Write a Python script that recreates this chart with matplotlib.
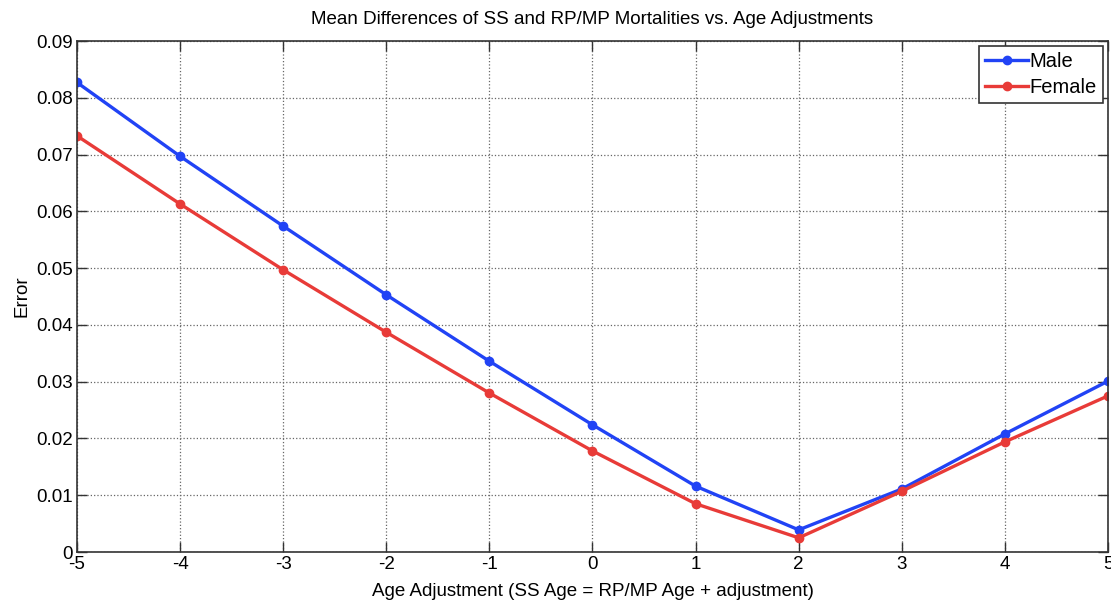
import matplotlib
matplotlib.use("Agg")
import matplotlib.pyplot as plt

# age adjustment values and mean error per sex
adjustments = [-5, -4, -3, -2, -1, 0, 1, 2, 3, 4, 5]
male_error = [0.0827, 0.0697, 0.0574, 0.0453, 0.0336, 0.0224, 0.0116, 0.0039, 0.0111, 0.0208, 0.0301]
female_error = [0.0733, 0.0613, 0.0497, 0.0387, 0.0280, 0.0178, 0.0085, 0.0025, 0.0107, 0.0194, 0.0275]

plt.rcParams['font.family'] = ['Liberation Sans', 'DejaVu Sans']
plt.rcParams['font.size'] = 13

color_male = '#2143f5'
color_female = '#e83b38'

fig = plt.figure(figsize=(11.11, 6.06), dpi=100)
ax = fig.add_axes([0.0693, 0.0891, 0.9280, 0.8432])

ax.plot(adjustments, male_error, color=color_male, marker='o', markersize=6, linewidth=2.4, label='Male')
ax.plot(adjustments, female_error, color=color_female, marker='o', markersize=6, linewidth=2.4, label='Female')

ax.set_xlim(-5, 5)
ax.set_ylim(0, 0.09)
ax.set_xticks(adjustments)
ax.set_xticklabels([str(a) for a in adjustments])
ax.set_yticks([i / 100 for i in range(10)])
ax.set_yticklabels(['0'] + ['%.2f' % (i / 100) for i in range(1, 10)])

ax.grid(True, linestyle=':', color='#666666', linewidth=0.9)
ax.set_axisbelow(True)
ax.tick_params(direction='in', top=True, right=True, length=7, width=1, labelsize=13.5,
               color='#333333', pad=3)
for sp in ax.spines.values():
    sp.set_linewidth(1.2)
    sp.set_color('#333333')

ax.set_title('Mean Differences of SS and RP/MP Mortalities vs. Age Adjustments', fontsize=13.5, pad=12)
ax.set_xlabel('Age Adjustment (SS Age = RP/MP Age + adjustment)', fontsize=13.5, labelpad=7)
ax.set_ylabel('Error', fontsize=13.5, labelpad=4)

leg = ax.legend(loc='upper right', fontsize=14.5, fancybox=False, framealpha=1,
                edgecolor='#333333', borderaxespad=0.25, handlelength=2.1,
                handletextpad=0.1, borderpad=0.3, labelspacing=0.35)
leg.get_frame().set_linewidth(1.2)

fig.savefig('out.png', dpi=100)
